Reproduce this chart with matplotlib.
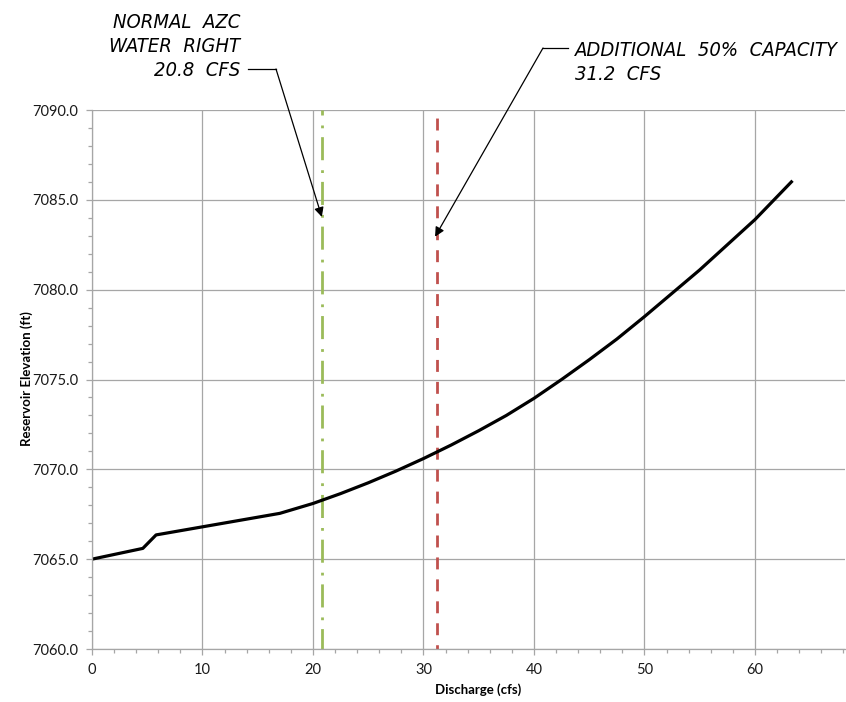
import numpy as np
import matplotlib
matplotlib.use('Agg')
import matplotlib.pyplot as plt
from matplotlib.ticker import MultipleLocator, FormatStrFormatter

plt.rcParams['font.family'] = ['Lato', 'DejaVu Sans']
plt.rcParams['font.size'] = 9

# rating curve: discharge (cfs) vs reservoir elevation (ft)
discharge = [0, 4.6, 5.8, 10, 17, 20, 22.5, 25, 27.5, 30, 32.5, 35, 37.5, 40,
             42.5, 45, 47.5, 50, 52.5, 55, 57.5, 60, 63.3]
elevation = [7065.0, 7065.6, 7066.35, 7066.8, 7067.55, 7068.1, 7068.65, 7069.25,
             7069.9, 7070.6, 7071.35, 7072.15, 7073.0, 7073.95, 7075.0, 7076.1,
             7077.25, 7078.5, 7079.8, 7081.1, 7082.5, 7083.9, 7086.0]

water_right = 20.8
extra_capacity = 31.2
water_right_label = 'NORMAL  AZC\nWATER  RIGHT\n20.8  CFS'
capacity_label = 'ADDITIONAL  50%  CAPACITY\n31.2  CFS'

W, H = 846, 702
fig = plt.figure(figsize=(W / 100, H / 100), dpi=100)
ax = fig.add_axes([92 / W, 53 / H, 753 / W, 539 / H])

grid_c = '#a6a6a6'
ax.set_xlim(0, 68.15)
ax.set_ylim(7060, 7090)
ax.xaxis.set_major_locator(MultipleLocator(10))
ax.xaxis.set_minor_locator(MultipleLocator(2))
ax.yaxis.set_major_locator(MultipleLocator(5))
ax.yaxis.set_minor_locator(MultipleLocator(1))
ax.yaxis.set_major_formatter(FormatStrFormatter('%.1f'))
ax.grid(True, which='major', color=grid_c, linewidth=0.9)
ax.set_axisbelow(True)
for s in ['top', 'right']:
    ax.spines[s].set_visible(False)
for s in ['left', 'bottom']:
    ax.spines[s].set_color(grid_c)
    ax.spines[s].set_linewidth(0.9)
ax.tick_params(which='major', length=4, width=0.9, color=grid_c, labelsize=10.5,
               labelcolor='#1a1a1a', pad=6)
ax.tick_params(which='minor', length=3, width=0.9, color=grid_c)

# allowed flows
ax.plot([water_right, water_right], [7090, 7060], color='#9bbb59', linewidth=2,
        linestyle=(6.5, (8.3, 3.6, 1.0, 3.2)), solid_capstyle='butt')
ax.plot([extra_capacity, extra_capacity], [7090, 7060], color='#c0504d', linewidth=2,
        linestyle=(5.0, (4.3, 3.6)), solid_capstyle='butt')

ax.plot(discharge, elevation, color='black', linewidth=2.3, solid_joinstyle='round')

fig.text(27 / W, 1 - 379 / H, 'Reservoir Elevation (ft)', rotation=90,
         ha='center', va='center', fontsize=9.5, fontweight='bold')
fig.text(478 / W, 1 - 690 / H, 'Discharge (cfs)', ha='center', va='center',
         fontsize=9.5, fontweight='bold')

# leader notes
note_kw = dict(fontsize=14.5, fontstyle='italic', fontstretch='condensed',
               family=['DejaVu Sans'], linespacing=1.35, color='black')
fig.text(240 / W, 1 - 76 / H, water_right_label, ha='right', va='baseline',
         multialignment='right', **note_kw)
fig.text(575 / W, 1 - 80 / H, capacity_label, ha='left', va='baseline',
         multialignment='left', **note_kw)

arrow = dict(arrowstyle='-|>', color='black', linewidth=0.9,
             mutation_scale=14, shrinkA=0, shrinkB=0)
fig.add_artist(plt.Line2D([248 / W, 276 / W], [1 - 69 / H, 1 - 69 / H],
                          color='black', linewidth=0.9))
ax.annotate('', xy=(water_right, 7084.05), xycoords='data',
            xytext=(276 / W, 1 - 69 / H), textcoords='figure fraction',
            arrowprops=arrow, annotation_clip=False)
fig.add_artist(plt.Line2D([543 / W, 568 / W], [1 - 48 / H, 1 - 48 / H],
                          color='black', linewidth=0.9))
ax.annotate('', xy=(extra_capacity - 0.15, 7082.95), xycoords='data',
            xytext=(543 / W, 1 - 48 / H), textcoords='figure fraction',
            arrowprops=arrow, annotation_clip=False)

fig.savefig('out.png', dpi=100)
